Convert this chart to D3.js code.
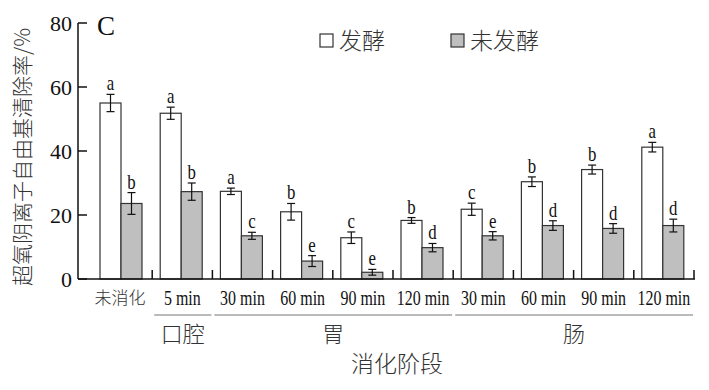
<!DOCTYPE html>
<html><head><meta charset="utf-8">
<script src="https://cdn.jsdelivr.net/npm/d3@7"></script>
<style>
html,body{margin:0;padding:0;background:#fff;}
svg{display:block;}
</style></head><body>
<svg id="c" width="709" height="390"></svg>
<script>
const categories = ["未消化","5 min","30 min","60 min","90 min","120 min","30 min ","60 min ","90 min ","120 min "];
const tickLabels = ["未消化","5 min","30 min","60 min","90 min","120 min","30 min","60 min","90 min","120 min"];
const seriesNames = ["发酵","未发酵"];
const fermented = [55.0,51.8,27.4,21.0,12.9,18.3,21.8,30.4,34.2,41.2];
const fermentedErr = [2.7,1.9,1.0,2.6,1.8,0.9,1.9,1.5,1.4,1.5];
const fermentedSig = ["a","a","a","b","c","b","c","b","b","a"];
const unfermented = [23.6,27.3,13.5,5.6,2.1,9.8,13.5,16.7,15.8,16.7];
const unfermentedErr = [3.4,2.7,1.1,1.7,0.9,1.3,1.3,1.5,1.5,2.0];
const unfermentedSig = ["b","b","c","e","e","d","e","d","d","d"];
const yTicks = [0,20,40,60,80];
const groups = [
  {name:"口腔", from:1, to:1},
  {name:"胃", from:2, to:5},
  {name:"肠", from:6, to:9}
];

const LAT = "'Liberation Serif', 'Times New Roman', 'DejaVu Serif', serif";
const CJK = "'Noto Sans CJK SC', 'Noto Sans', sans-serif";
const svg = d3.select("#c");
const y = d3.scaleLinear().domain([0,80]).range([279,23]);
const x = d3.scaleBand().domain(categories).range([92,694]).paddingInner(0).paddingOuter(0);
const xs = d3.scaleBand().domain(seriesNames).range([8,50]);
const fills = {"发酵":"#ffffff","未发酵":"#bfbfbf"};
const axisX0 = 78, axisX1 = 695;

const series = [
  {name:"发酵", vals:fermented, err:fermentedErr, sig:fermentedSig},
  {name:"未发酵", vals:unfermented, err:unfermentedErr, sig:unfermentedSig}
];
series.forEach(s=>{
  const g = svg.append("g");
  categories.forEach((c,i)=>{
    const bx = x(c)+xs(s.name);
    const w = xs.bandwidth();
    g.append("rect").attr("x",bx).attr("y",y(s.vals[i])).attr("width",w)
      .attr("height",y(0)-y(s.vals[i])).attr("fill",fills[s.name])
      .attr("stroke","#333").attr("stroke-width",1.2);
    const cx = bx + w/2;
    const top = y(s.vals[i]+s.err[i]), bot = y(s.vals[i]-s.err[i]);
    g.append("line").attr("x1",cx).attr("x2",cx).attr("y1",top).attr("y2",bot).attr("stroke","#111").attr("stroke-width",1.2);
    [top,bot].forEach(yy=>g.append("line").attr("x1",cx-4).attr("x2",cx+4).attr("y1",yy).attr("y2",yy).attr("stroke","#111").attr("stroke-width",1.2));
    g.append("text").attr("font-family",LAT).attr("transform",`translate(${cx},${top-4}) scale(0.8,1)`)
      .attr("text-anchor","middle").attr("font-size",21).attr("fill","#111").text(s.sig[i]);
  });
});

svg.append("line").attr("x1",axisX0).attr("x2",axisX0).attr("y1",y(80)).attr("y2",y(0)).attr("stroke","#111").attr("stroke-width",1.5);
yTicks.forEach(t=>{
  svg.append("line").attr("x1",axisX0).attr("x2",axisX0+9).attr("y1",y(t)).attr("y2",y(t)).attr("stroke","#111").attr("stroke-width",1.5);
  svg.append("text").attr("font-family",LAT).attr("x",72).attr("y",y(t)+7.5).attr("text-anchor","end")
    .attr("font-size",22).attr("fill","#111").text(t);
});
svg.append("line").attr("x1",axisX0).attr("x2",axisX1).attr("y1",y(0)).attr("y2",y(0)).attr("stroke","#111").attr("stroke-width",1.5);
categories.forEach((c,i)=>{
  const xe = x(c)+x.bandwidth();
  svg.append("line").attr("x1",xe).attr("x2",xe).attr("y1",y(0)).attr("y2",y(0)-9).attr("stroke","#111").attr("stroke-width",1.5);
  const cx = x(c)+x.bandwidth()/2;
  if(i===0){
    svg.append("text").attr("font-family",CJK).attr("font-weight",300).attr("x",cx-2).attr("y",304).attr("text-anchor","middle")
      .attr("font-size",17).attr("fill","#333").text(tickLabels[i]);
  } else {
    svg.append("text").attr("font-family",LAT).attr("transform",`translate(${cx},305) scale(0.76,1)`).attr("text-anchor","middle")
      .attr("font-size",21).attr("fill","#111").text(tickLabels[i]);
  }
});
groups.forEach(gp=>{
  const x0 = x(categories[gp.from])+2, x1 = x(categories[gp.to])+x.bandwidth()-1;
  svg.append("line").attr("x1",x0).attr("x2",x1).attr("y1",315).attr("y2",315).attr("stroke","#777").attr("stroke-width",1.2);
  svg.append("text").attr("font-family",CJK).attr("font-weight",300).attr("x",(x0+x1)/2).attr("y",342).attr("text-anchor","middle")
    .attr("font-size",22).attr("fill","#333").text(gp.name);
});
svg.append("text").attr("font-family",CJK).attr("font-weight",300).attr("x",397).attr("y",372).attr("text-anchor","middle")
  .attr("font-size",23).attr("fill","#333").text("消化阶段");
svg.append("text").attr("font-family",CJK).attr("font-weight",300).attr("transform","translate(30,157) rotate(-90)").attr("text-anchor","middle")
  .attr("font-size",21).attr("fill","#333").text("超氧阴离子自由基清除率/%");
svg.append("text").attr("font-family",LAT).attr("x",97).attr("y",35).attr("font-size",27).attr("fill","#111").text("C");
const legendX = [320,451];
seriesNames.forEach((n,i)=>{
  svg.append("rect").attr("x",legendX[i]).attr("y",34).attr("width",13).attr("height",13)
    .attr("fill",fills[n]).attr("stroke","#333").attr("stroke-width",1.2);
  svg.append("text").attr("font-family",CJK).attr("font-weight",300).attr("x",legendX[i]+19).attr("y",49).attr("font-size",23).attr("fill","#333").text(n);
});
</script></body></html>
